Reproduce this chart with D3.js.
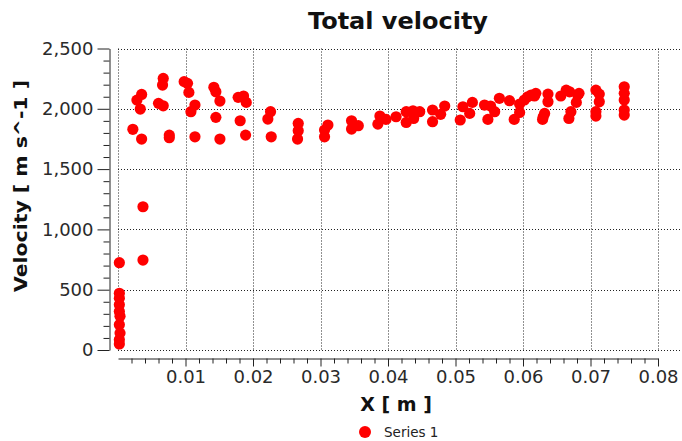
<!DOCTYPE html>
<html><head><meta charset="utf-8">
<script src="https://cdn.jsdelivr.net/npm/d3@7"></script>
<style>
html,body{margin:0;padding:0;background:#fff;}
svg{display:block;}
text{font-family:"DejaVu Sans",Verdana,sans-serif;}
</style></head>
<body><svg id="chart" width="682" height="441"></svg>
<script>
// ---- data ----
const title = "Total velocity";
const xLabel = "X [ m ]";
const yLabel = "Velocity [ m s^-1 ]";
const seriesName = "Series 1";
const xTicks = [0.01, 0.02, 0.03, 0.04, 0.05, 0.06, 0.07, 0.08];
const yTicks = [0, 500, 1000, 1500, 2000, 2500];
const xValues = [
  0.0002,0.0002,0.0002,0.0002,0.0002,0.0003,0.0002,0.0003,0.0002,0.0002,
  0.0037,0.0037,
  0.0022,0.0028,0.0035,0.0033,0.0035,0.0060,0.0067,0.0067,0.0066,0.0076,0.0076,
  0.0098,0.0103,0.0105,0.0114,0.0108,0.0114,
  0.0142,0.0145,0.0151,0.0145,0.0151,
  0.0178,0.0186,0.0190,0.0181,0.0189,
  0.0226,0.0222,0.0227,
  0.0267,0.0267,0.0266,
  0.0311,0.0306,0.0306,
  0.0346,0.0356,0.0346,
  0.0388,0.0397,0.0385,0.0412,
  0.0427,0.0437,0.0447,0.0427,0.0438,
  0.0466,0.0484,0.0478,0.0466,
  0.0511,0.0525,0.0521,0.0507,
  0.0543,0.0552,0.0565,0.0558,0.0548,
  0.0580,0.0595,0.0595,0.0587,
  0.0602,0.0607,0.0612,0.0617,0.0619,
  0.0637,0.0637,0.0632,0.0630,0.0629,
  0.0656,0.0664,0.0669,0.0681,0.0683,0.0679,0.0671,0.0668,
  0.0708,0.0713,0.0713,0.0708,0.0708,
  0.0750,0.0750,0.0750,0.0750,0.0750
];
const vValues = [
  724,470,430,375,320,280,210,140,85,50,
  1188,746,
  1830,2072,2119,1998,1749,2045,2025,2252,2197,1782,1760,
  2225,2211,2136,2031,1976,1768,
  2178,2141,2064,1929,1749,
  2095,2106,2053,1901,1782,
  1976,1915,1768,
  1879,1818,1749,
  1865,1824,1768,
  1901,1860,1832,
  1940,1912,1873,1934,
  1976,1984,1976,1887,1920,
  1990,2023,1954,1893,
  2017,2053,1962,1907,
  2031,2023,2087,1976,1912,
  2067,1970,2040,1912,
  2073,2100,2114,2106,2128,
  2122,2058,1962,1934,1912,
  2106,2155,2141,2114,2128,2053,1976,1920,
  2155,2122,2058,1976,1940,
  2183,2128,2073,1990,1948
];

// ---- chart ----
const svg = d3.select("#chart");
svg.append("rect").attr("width",682).attr("height",441).attr("fill","#fff");

const x = d3.scaleLinear().domain([0, 0.08]).range([118, 658]);
const y = d3.scaleLinear().domain([0, 2500]).range([350, 48.5]);
const gridColor = "#222";

// gridlines
svg.append("g").selectAll("line").data(yTicks).join("line")
  .attr("x1", x(0)).attr("x2", 682)
  .attr("y1", d => Math.round(y(d)) + 0.5).attr("y2", d => Math.round(y(d)) + 0.5)
  .attr("stroke", gridColor).attr("stroke-width", 1).attr("stroke-dasharray", "1,2");
svg.append("g").selectAll("line").data([0].concat(xTicks)).join("line")
  .attr("x1", d => Math.round(x(d)) + 0.5).attr("x2", d => Math.round(x(d)) + 0.5)
  .attr("y1", y(2500)).attr("y2", y(0))
  .attr("stroke", gridColor).attr("stroke-width", 1).attr("stroke-dasharray", "1,2");

// y axis (detached, left)
const axisColor = "#222";
const yMinor = d3.range(0, 2501, 100).filter(v => v % 500 !== 0);
const gyMinor = svg.append("g").attr("transform", "translate(109.5,0)")
  .call(d3.axisLeft(y).tickValues(yMinor).tickSize(6).tickSizeOuter(0).tickFormat(""));
gyMinor.select(".domain").remove();
gyMinor.selectAll("line").attr("stroke", axisColor);
const gy = svg.append("g").attr("transform", "translate(109.5,0)")
  .call(d3.axisLeft(y).tickValues(yTicks).tickSize(12).tickSizeOuter(0).tickPadding(4).tickFormat(d3.format(",")));
gy.select(".domain").attr("stroke", axisColor);
gy.selectAll("line").attr("stroke", axisColor);
gy.selectAll("text").attr("font-size", 18).attr("fill", "#2a2a2a")
  .attr("font-family", "DejaVu Sans");

// x axis (detached, bottom)
const xMinor = d3.range(0, 41).map(i => i * 0.002).filter((v, i) => i % 5 !== 0);
const gxMinor = svg.append("g").attr("transform", "translate(0,358.5)")
  .call(d3.axisBottom(x).tickValues(xMinor).tickSize(5).tickSizeOuter(0).tickFormat(""));
gxMinor.select(".domain").remove();
gxMinor.selectAll("line").attr("stroke", axisColor);
const gx = svg.append("g").attr("transform", "translate(0,358.5)")
  .call(d3.axisBottom(x).tickValues(xTicks).tickSize(8).tickSizeOuter(0).tickPadding(4).tickFormat(d3.format(".2f")));
gx.select(".domain").attr("stroke", axisColor);
gx.selectAll("line").attr("stroke", axisColor);
gx.selectAll("text").attr("font-size", 18).attr("fill", "#2a2a2a")
  .attr("font-family", "DejaVu Sans");

// points
const pts = xValues.map((d, i) => ({x: d, v: vValues[i]}));
svg.append("g").selectAll("circle").data(pts).join("circle")
  .attr("cx", d => x(d.x)).attr("cy", d => y(d.v)).attr("r", 5.6)
  .attr("fill", "#ff0000");

// title
svg.append("text").attr("x", 398).attr("y", 29).attr("text-anchor", "middle")
  .attr("font-size", 23).attr("font-weight", "bold").attr("fill", "#111")
  .attr("textLength", 180).attr("lengthAdjust", "spacingAndGlyphs").text(title);

// axis titles
svg.append("text").attr("x", 396).attr("y", 411).attr("text-anchor", "middle")
  .attr("font-size", 19).attr("font-weight", "bold").attr("fill", "#111").text(xLabel);
svg.append("text").attr("transform", "translate(27,186) rotate(-90)").attr("text-anchor", "middle")
  .attr("font-size", 18).attr("font-weight", "bold").attr("fill", "#111")
  .attr("textLength", 212).attr("lengthAdjust", "spacingAndGlyphs").text(yLabel);

// legend
svg.append("circle").attr("cx", 365).attr("cy", 432).attr("r", 6).attr("fill", "#ff0000");
svg.append("text").attr("x", 384).attr("y", 437).attr("font-size", 13.5).attr("fill", "#222").text(seriesName);
</script></body></html>
